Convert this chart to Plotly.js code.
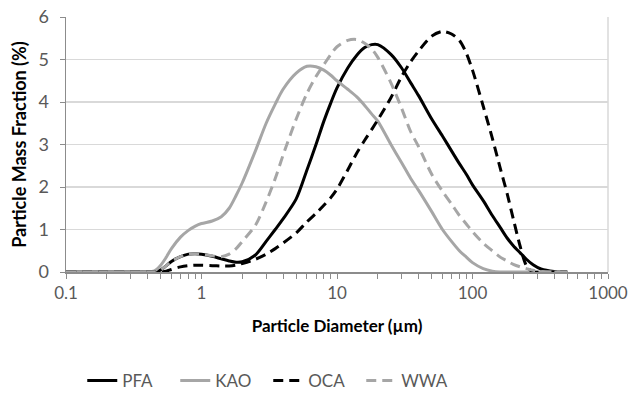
<!DOCTYPE html>
<html>
<head>
<meta charset="utf-8">
<script src="https://cdn.plot.ly/plotly-3.0.1.min.js"></script>
<style>html,body{margin:0;padding:0;background:#fff;}#chart{width:632px;height:395px;}</style>
</head>
<body>
<div id="chart"></div>
<script>
const diameters = [0.1,0.2,0.3,0.4,0.45,0.5,0.55,0.6,0.7,0.8,0.9,1,1.2,1.4,1.6,1.8,2,2.5,3,3.5,4,5,6,7,8,9,10,12,14,16,18,20,25,30,35,40,50,60,70,80,90,100,120,140,160,180,200,225,250,280,320,400,500];
const pfa = [0,0,0,0,0,0.05,0.15,0.25,0.36,0.42,0.43,0.42,0.37,0.31,0.26,0.23,0.24,0.4,0.72,1.0,1.25,1.72,2.4,3.0,3.55,3.98,4.33,4.8,5.1,5.28,5.35,5.35,5.12,4.8,4.45,4.15,3.6,3.2,2.85,2.55,2.3,2.05,1.68,1.33,1.05,0.8,0.62,0.45,0.3,0.17,0.07,0.01,0];
const kao = [0,0,0,0,0.03,0.16,0.35,0.55,0.82,0.98,1.08,1.14,1.2,1.3,1.5,1.8,2.1,2.85,3.5,3.95,4.3,4.68,4.84,4.83,4.75,4.63,4.5,4.3,4.12,3.92,3.72,3.55,3.0,2.57,2.2,1.92,1.42,1.0,0.72,0.5,0.35,0.22,0.08,0.02,0,0,0,0,0,0,0,0,0];
const oca = [0,0,0,0,0,0,0.02,0.06,0.12,0.15,0.16,0.16,0.15,0.14,0.14,0.16,0.2,0.3,0.42,0.55,0.68,0.92,1.18,1.38,1.57,1.75,1.95,2.4,2.8,3.1,3.35,3.58,4.1,4.6,4.95,5.2,5.55,5.66,5.6,5.45,5.15,4.75,3.9,3.15,2.45,1.85,1.25,0.6,0.15,0,0,0,0];
const wwa = [0,0,0,0,0,0.05,0.15,0.25,0.36,0.42,0.43,0.42,0.38,0.36,0.42,0.55,0.72,1.1,1.65,2.2,2.75,3.6,4.2,4.6,4.88,5.12,5.3,5.45,5.47,5.38,5.25,5.05,4.45,3.85,3.3,2.95,2.3,1.9,1.6,1.33,1.13,0.95,0.68,0.5,0.35,0.26,0.18,0.12,0.08,0.04,0.01,0,0];
const seriesNames = ['PFA','KAO','OCA','WWA'];
const majorTicks = [0.1,1,10,100,1000];
const majorLabels = ['0.1','1','10','100','1000'];
const minorTicks = [0.2,0.3,0.4,0.5,0.6,0.7,0.8,0.9,2,3,4,5,6,7,8,9,20,30,40,50,60,70,80,90,200,300,400,500,600,700,800,900];
const yTicks = [0,1,2,3,4,5,6];

const black = '#000000', gray = '#a6a6a6';
const styles = [
  {color: black, dash: 'solid'},
  {color: gray, dash: 'solid'},
  {color: black, dash: '10px,6px'},
  {color: gray, dash: '10px,6px'}
];
const ys = [pfa, kao, oca, wwa];
const traces = ys.map((y, i) => ({
  x: diameters, y: y, name: seriesNames[i], type: 'scatter', mode: 'lines',
  line: {color: styles[i].color, dash: styles[i].dash, width: 3, shape: 'spline', smoothing: 0.8},
  hoverinfo: 'skip'
}));

const font = 'Lato, "Open Sans", sans-serif';
const layout = {
  width: 632, height: 395,
  margin: {l: 66, r: 24, t: 17, b: 123, autoexpand: false},
  paper_bgcolor: '#fff', plot_bgcolor: '#fff',
  font: {family: font, size: 16, color: '#595959'},
  showlegend: true,
  legend: {orientation: 'h', x: 0.03, xanchor: 'left', y: -0.427, yanchor: 'middle',
           font: {family: font, size: 17, color: '#595959'}, itemwidth: 30, traceorder: 'normal',
           entrywidth: 48, entrywidthmode: 'pixels'},
  xaxis: {
    type: 'log', range: [-1, 3],
    tickmode: 'array', tickvals: majorTicks, ticktext: majorLabels,
    ticks: 'outside', ticklen: 5, tickcolor: '#8c8c8c', tickwidth: 1,
    minor: {tickmode: 'array', tickvals: minorTicks, ticks: 'outside', ticklen: 5, tickcolor: '#8c8c8c', tickwidth: 1, showgrid: false},
    showline: true, linecolor: '#8c8c8c', linewidth: 1.5,
    showgrid: false, zeroline: false,
    tickfont: {family: font, size: 17, color: '#595959'},
    title: {text: 'Particle Diameter (µm)', font: {family: font, size: 17, color: '#000', weight: 'bold'}, standoff: 18}
  },
  yaxis: {
    range: [0, 6], tickmode: 'array', tickvals: yTicks,
    ticks: 'outside', ticklen: 5, tickcolor: '#8c8c8c',
    ticklabelstandoff: 7,
    showline: true, linecolor: '#8c8c8c', linewidth: 1.5,
    showgrid: true, gridcolor: '#d9d9d9', gridwidth: 1.5, zeroline: false,
    tickfont: {family: font, size: 18, color: '#595959'},
    title: {text: 'Particle Mass Fraction (%)', font: {family: font, size: 18, color: '#000', weight: 'bold'}, standoff: 7}
  },
  shapes: [
    {type: 'line', xref: 'paper', yref: 'paper', x0: 1, x1: 1, y0: 0, y1: 1, line: {color: '#d9d9d9', width: 1.5}}
  ]
};
Plotly.newPlot('chart', traces, layout, {displayModeBar: false, staticPlot: true});
</script>
</body>
</html>
